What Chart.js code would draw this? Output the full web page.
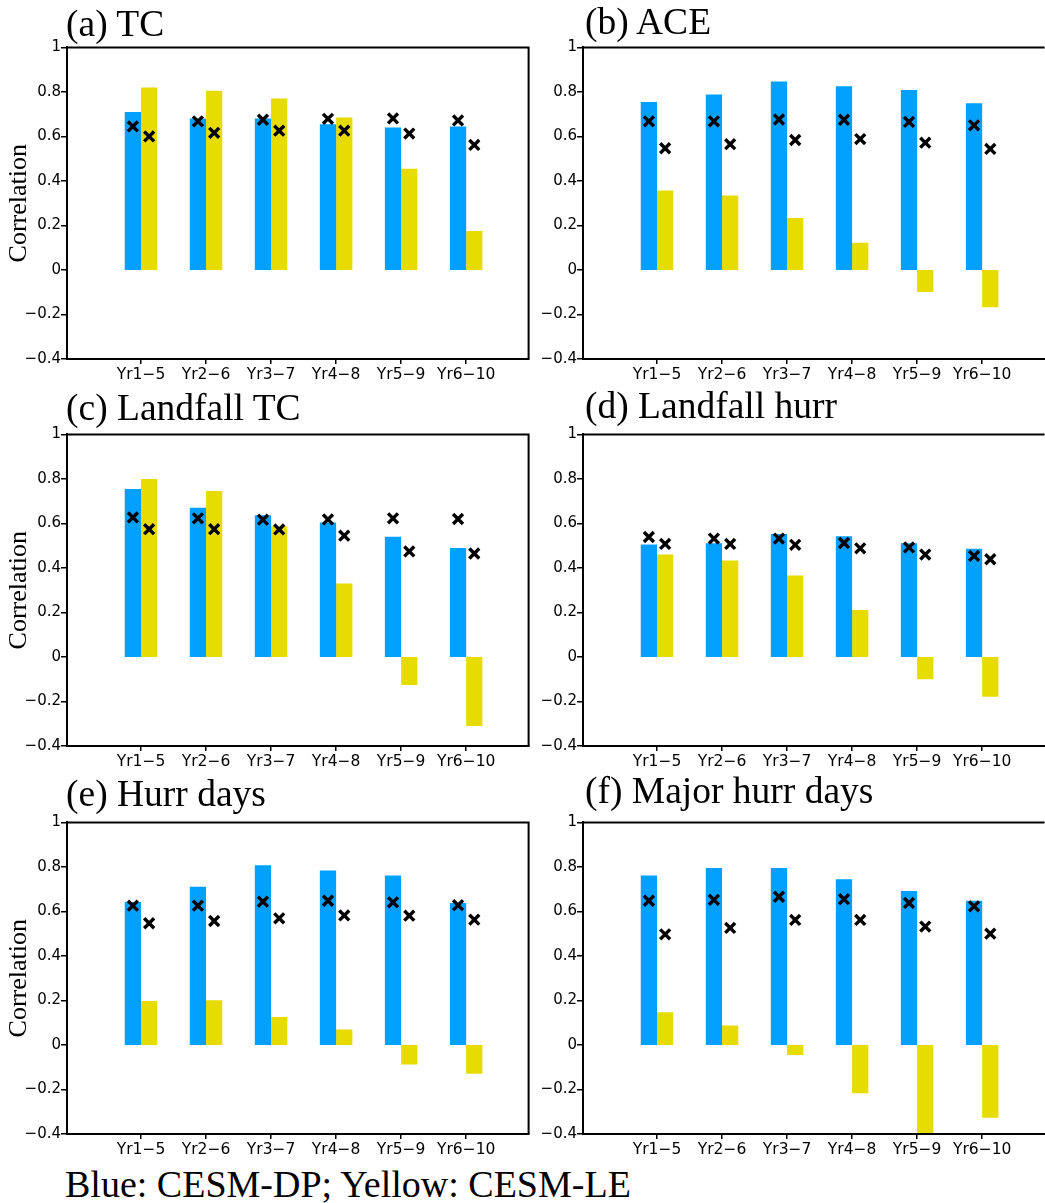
<!DOCTYPE html>
<html><head><meta charset="utf-8">
<script src="https://cdn.jsdelivr.net/npm/chart.js@4.4.1/dist/chart.umd.min.js"></script>
<style>
html,body{margin:0;padding:0;width:1045px;height:1203px;overflow:hidden;background:#fff;position:relative;}
canvas{position:absolute;}
.t{position:absolute;font-family:'Liberation Serif','Times New Roman',serif;font-size:37.5px;line-height:37.5px;color:#000;white-space:nowrap;}
.lg{position:absolute;left:65px;top:1168px;font-family:'Liberation Serif','Times New Roman',serif;font-size:38px;line-height:32px;color:#000;white-space:nowrap;}
</style></head><body>
<div class="lg">Blue: CESM-DP; Yellow: CESM-LE</div>
<script>
// ---- data ----
const categories = ['Yr1-5','Yr2-6','Yr3-7','Yr4-8','Yr5-9','Yr6-10'];
const yTicksMin = -0.4, yTicksMax = 1, yTickStep = 0.2;

const tcBlue    = [0.71, 0.68, 0.68, 0.655, 0.64, 0.645];
const tcYellow  = [0.82, 0.805, 0.77, 0.685, 0.455, 0.175];
const tcBlueX   = [0.645, 0.668, 0.675, 0.679, 0.681, 0.672];
const tcYellowX = [0.60, 0.616, 0.626, 0.626, 0.613, 0.562];

const aceBlue    = [0.755, 0.788, 0.847, 0.826, 0.809, 0.749];
const aceYellow  = [0.357, 0.335, 0.234, 0.122, -0.099, -0.168];
const aceBlueX   = [0.668, 0.668, 0.676, 0.675, 0.665, 0.65];
const aceYellowX = [0.547, 0.565, 0.584, 0.588, 0.572, 0.544];

const ltcBlue    = [0.755, 0.67, 0.637, 0.604, 0.54, 0.49];
const ltcYellow  = [0.80, 0.746, 0.587, 0.33, -0.126, -0.31];
const ltcBlueX   = [0.627, 0.623, 0.617, 0.618, 0.623, 0.62];
const ltcYellowX = [0.574, 0.574, 0.573, 0.545, 0.474, 0.465];

const lhBlue    = [0.505, 0.511, 0.552, 0.542, 0.511, 0.486];
const lhYellow  = [0.46, 0.433, 0.366, 0.211, -0.10, -0.179];
const lhBlueX   = [0.539, 0.532, 0.532, 0.512, 0.492, 0.454];
const lhYellowX = [0.508, 0.508, 0.504, 0.488, 0.46, 0.439];

const hdBlue    = [0.642, 0.711, 0.808, 0.784, 0.761, 0.638];
const hdYellow  = [0.198, 0.201, 0.126, 0.069, -0.088, -0.129];
const hdBlueX   = [0.626, 0.626, 0.644, 0.648, 0.641, 0.628];
const hdYellowX = [0.547, 0.557, 0.569, 0.582, 0.581, 0.563];

const mhBlue    = [0.761, 0.795, 0.795, 0.745, 0.692, 0.648];
const mhYellow  = [0.147, 0.088, -0.045, -0.217, -0.396, -0.327];
const mhBlueX   = [0.648, 0.652, 0.666, 0.655, 0.638, 0.623];
const mhYellowX = [0.497, 0.526, 0.562, 0.562, 0.532, 0.50];

const titles = ['(a) TC','(b) ACE','(c) Landfall TC','(d) Landfall hurr','(e) Hurr days','(f) Major hurr days'];

// ---- styling / layout ----
const BLUE = 'rgb(0,160,255)';
const YELLOW = 'rgb(230,220,0)';
Chart.defaults.font.family = "'DejaVu Sans', sans-serif";
Chart.defaults.font.size = 15;
Chart.defaults.color = '#000';

const AXW = 67, PW = 468, PH = 318, PADT = 4, PADR = 4, XAH = 30;
const CAT_PCT = 0.5;
const MARK_OFF = CAT_PCT / 4;

const boxPlugin = {
  id: 'box',
  afterDraw(chart, args, opts) {
    const {ctx, chartArea: a} = chart;
    ctx.save();
    ctx.strokeStyle = '#000';
    ctx.lineWidth = 2;
    ctx.beginPath();
    ctx.moveTo(a.left, a.top);
    ctx.lineTo(a.right, a.top);
    if (opts.right) { ctx.lineTo(a.right, a.bottom); }
    ctx.moveTo(a.left, a.bottom);
    ctx.lineTo(a.right, a.bottom);
    ctx.stroke();
    ctx.restore();
  }
};

function fmt(v) {
  const r = Math.round(v * 10) / 10;
  return (r < 0 ? '\u2212' : '') + String(Math.abs(r));
}

function makePanel(idx, plotLeft, plotTop, titleTop, blue, yellow, blueX, yellowX, leftCol) {
  const cv = document.createElement('canvas');
  cv.width = AXW + PW + PADR;
  cv.height = PADT + PH + XAH;
  cv.style.left = (plotLeft - AXW) + 'px';
  cv.style.top = (plotTop - PADT) + 'px';
  document.body.appendChild(cv);

  const t = document.createElement('div');
  t.className = 't';
  t.textContent = titles[idx];
  t.style.left = (plotLeft - 1 + (leftCol ? 0 : 3)) + 'px';
  t.style.top = titleTop + 'px';
  document.body.appendChild(t);

  const markDs = (arr, off) => ({
    type: 'line', data: arr.map((v, i) => ({x: i + 1 + off, y: v})),
    showLine: false, pointStyle: 'crossRot', pointRadius: 7, pointBorderWidth: 3.4,
    borderColor: '#000', backgroundColor: '#000', pointBorderColor: '#000', order: 0
  });
  const barDs = (arr, col) => ({
    type: 'bar', data: arr.map((v, i) => ({x: i + 1, y: v})),
    backgroundColor: col, borderWidth: 0, order: 1,
    categoryPercentage: CAT_PCT, barPercentage: 1
  });

  new Chart(cv, {
    type: 'bar',
    data: {datasets: [
      markDs(blueX, -MARK_OFF), markDs(yellowX, MARK_OFF),
      barDs(blue, BLUE), barDs(yellow, YELLOW)
    ]},
    options: {
      responsive: false, animation: false, events: [],
      layout: {padding: {left: 0, right: PADR, top: PADT, bottom: 0}},
      plugins: {legend: {display: false}, tooltip: {enabled: false}, box: {right: leftCol}},
      scales: {
        x: {
          type: 'linear', min: -0.138, max: 6.96, offset: false,
          grid: {display: true, drawOnChartArea: false, drawTicks: true, tickLength: 5, color: '#000', lineWidth: 1.5, offset: false},
          border: {display: true, color: '#000', width: 2},
          afterBuildTicks: s => { s.ticks = categories.map((c, i) => ({value: i + 1})); },
          ticks: {callback: v => categories[Math.round(v) - 1].replace('-', '\u2212'), padding: 2, maxRotation: 0, autoSkip: false, font: {size: 15.5}},
          afterFit: s => { s.height = XAH; s.paddingLeft = 0; s.paddingRight = 0; }
        },
        y: {
          min: yTicksMin, max: yTicksMax,
          ticks: {stepSize: yTickStep, callback: v => fmt(v), padding: 0},
          grid: {display: true, drawOnChartArea: false, drawTicks: true, tickLength: 6, color: '#000', lineWidth: 1.5},
          border: {display: true, color: '#000', width: 2},
          title: {display: leftCol, text: 'Correlation', color: '#000', font: {family: "'Liberation Serif', serif", size: 26}, padding: {top: 4, bottom: 0}},
          afterFit: s => { s.width = AXW; s.paddingTop = 0; s.paddingBottom = 0; }
        }
      }
    },
    plugins: [boxPlugin]
  });
}

makePanel(0, 67, 41, 5, tcBlue, tcYellow, tcBlueX, tcYellowX, true);
makePanel(1, 583, 41, 3, aceBlue, aceYellow, aceBlueX, aceYellowX, false);
makePanel(2, 67, 428, 389, ltcBlue, ltcYellow, ltcBlueX, ltcYellowX, true);
makePanel(3, 583, 428, 387, lhBlue, lhYellow, lhBlueX, lhYellowX, false);
makePanel(4, 67, 816, 775, hdBlue, hdYellow, hdBlueX, hdYellowX, true);
makePanel(5, 583, 816, 772, mhBlue, mhYellow, mhBlueX, mhYellowX, false);
</script>
</body></html>
